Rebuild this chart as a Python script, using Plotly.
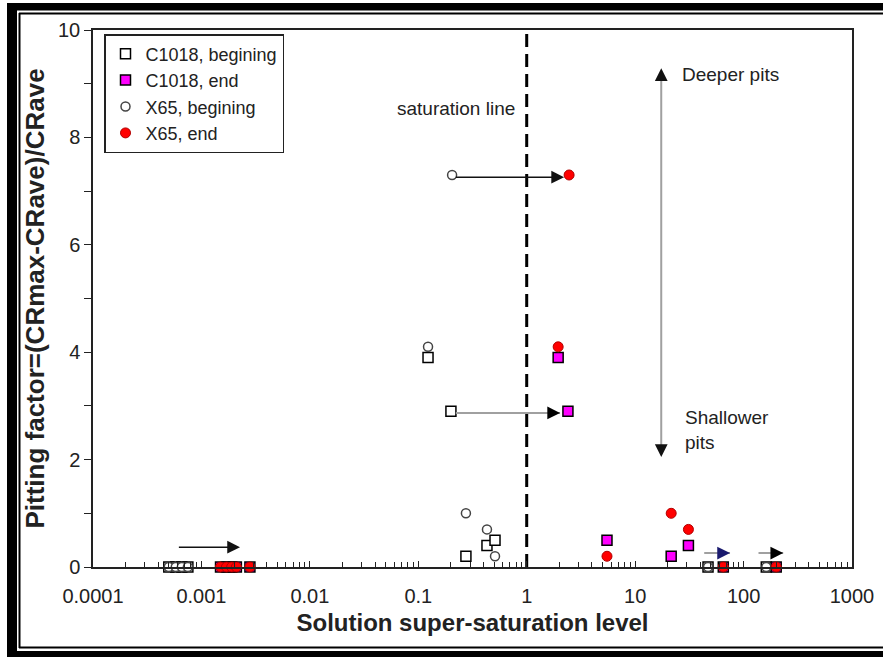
import numpy as np
import plotly.graph_objects as go

# ---------------- data ----------------
c1018_begin_x = [0.0005, 0.00058, 0.00066, 0.00075, 0.123, 0.2, 0.275, 0.43, 0.51, 47, 162]
c1018_begin_y = [0, 0, 0, 0, 3.9, 2.9, 0.2, 0.4, 0.5, 0, 0]

c1018_end_x = [0.0015, 0.0017, 0.0019, 0.0021, 0.0028, 1.95, 2.4, 5.5, 21.5, 31, 65, 200]
c1018_end_y = [0, 0, 0, 0, 0, 3.9, 2.9, 0.5, 0.2, 0.4, 0, 0]

x65_begin_x = [0.0005, 0.00058, 0.00066, 0.00075, 0.205, 0.123, 0.275, 0.43, 0.51, 47, 162]
x65_begin_y = [0, 0, 0, 0, 7.3, 4.1, 1.0, 0.7, 0.2, 0, 0]

x65_end_x = [0.0015, 0.0017, 0.0019, 0.0021, 0.0028, 2.46, 1.95, 5.5, 21.5, 31, 65, 200]
x65_end_y = [0, 0, 0, 0, 0, 7.3, 4.1, 0.2, 1.0, 0.7, 0, 0]

x_tickvals = [0.0001, 0.001, 0.01, 0.1, 1, 10, 100, 1000]
x_ticktext = ["0.0001", "0.001", "0.01", "0.1", "1", "10", "100", "1000"]

saturation_x = [1, 1]
saturation_y = [0, 10]

# arrows: (x_start, x_end, y)
black_arrows = [(0.0006, 0.00227, 0.37), (0.215, 2.21, 7.26)]
gray_arrows = [(0.215, 2.03, 2.87, "black"), (42, 75, 0.26, "#1a1a6e"), (133, 232, 0.26, "black")]
depth_arrow_x = 17.4
depth_arrow_y = [2.05, 9.29]

# ---------------- layout geometry ----------------
W, H = 883, 657
L, R, T, B = 93, 31, 30, 90
PW, PH = W - L - R, H - T - B


def px(v):
    return (v - L) / PW


def py(v):
    return (H - B - v) / PH


FONT = "Liberation Sans, Arial, sans-serif"

fig = go.Figure()

fig.add_trace(go.Scatter(
    x=saturation_x, y=saturation_y, mode="lines", showlegend=False,
    line=dict(color="black", width=3, dash="13px,7px"), hoverinfo="skip"))

fig.add_trace(go.Scatter(
    x=[depth_arrow_x, depth_arrow_x], y=[depth_arrow_y[0] + 0.15, depth_arrow_y[1] - 0.15],
    mode="lines", showlegend=False, line=dict(color="#a0a0a0", width=2), hoverinfo="skip"))

fig.add_trace(go.Scatter(
    x=c1018_begin_x, y=c1018_begin_y, mode="markers", name="C1018, begining",
    cliponaxis=False,
    marker=dict(symbol="square", size=10, color="white", line=dict(color="black", width=1.5))))
fig.add_trace(go.Scatter(
    x=c1018_end_x, y=c1018_end_y, mode="markers", name="C1018, end",
    cliponaxis=False,
    marker=dict(symbol="square", size=10, color="#ff00ff", line=dict(color="black", width=1.5))))
fig.add_trace(go.Scatter(
    x=x65_begin_x, y=x65_begin_y, mode="markers", name="X65, begining",
    cliponaxis=False,
    marker=dict(symbol="circle", size=9, color="white", line=dict(color="#444444", width=1.5))))
fig.add_trace(go.Scatter(
    x=x65_end_x, y=x65_end_y, mode="markers", name="X65, end",
    cliponaxis=False,
    marker=dict(symbol="circle", size=10, color="#ff0000", line=dict(color="#b00000", width=1))))

annotations = []


def arrow(x0, x1, y, color, head=2, width=1.5, size=1.7):
    return dict(x=np.log10(x1), y=y, ax=np.log10(x0), ay=y, xref="x", yref="y",
                axref="x", ayref="y", showarrow=True, arrowhead=head, arrowsize=size,
                arrowwidth=width, arrowcolor=color, text="")


for x0, x1, y in black_arrows:
    annotations.append(arrow(x0, x1, y, "#111111"))

for x0, x1, y, headcol in gray_arrows:
    annotations.append(arrow(x0, x1, y, "#a0a0a0", head=0, width=2))
    # arrowhead in darker colour
    xs = 10 ** (np.log10(x1) - 0.06)
    annotations.append(arrow(xs, x1, y, headcol))

# vertical double arrow heads
for ytip, ytail in [(depth_arrow_y[1], depth_arrow_y[1] - 0.22), (depth_arrow_y[0], depth_arrow_y[0] + 0.22)]:
    annotations.append(dict(x=np.log10(depth_arrow_x), y=ytip, ax=np.log10(depth_arrow_x), ay=ytail,
                            xref="x", yref="y", axref="x", ayref="y", showarrow=True,
                            arrowhead=2, arrowsize=1.7, arrowwidth=1.5, arrowcolor="#111111", text=""))

annotations.append(dict(x=np.log10(0.223), y=8.53, xref="x", yref="y", text="saturation line",
                        showarrow=False, font=dict(family=FONT, size=19, color="#222222")))
annotations.append(dict(x=np.log10(26), y=9.18, xref="x", yref="y", text="Deeper pits",
                        showarrow=False, xanchor="left", font=dict(family=FONT, size=19, color="#222222")))
annotations.append(dict(x=np.log10(27.7), y=2.55, xref="x", yref="y", text="Shallower<br>pits",
                        showarrow=False, xanchor="left", align="left",
                        font=dict(family=FONT, size=19, color="#222222")))

# page frame
shapes = []


def rect(x0, x1, y0, y1):
    shapes.append(dict(type="rect", xref="paper", yref="paper", x0=px(x0), x1=px(x1),
                       y0=py(y0), y1=py(y1), fillcolor="black", line=dict(width=0), layer="above"))


def hline(x0, x1, y, w=2):
    shapes.append(dict(type="line", xref="paper", yref="paper", x0=px(x0), x1=px(x1),
                       y0=py(y), y1=py(y), line=dict(color="black", width=w)))


def vline(x, y0, y1, w=2):
    shapes.append(dict(type="line", xref="paper", yref="paper", x0=px(x), x1=px(x),
                       y0=py(y0), y1=py(y1), line=dict(color="black", width=w)))


rect(7, 884, 3, 10.5)
rect(7, 17, 3, 658)
rect(7, 884, 651, 658)
hline(19, 884, 13.5)
vline(19.5, 13, 648)
hline(19, 884, 647.5)

fig.update_layout(
    width=W, height=H,
    margin=dict(l=L, r=R, t=T, b=B, autoexpand=False),
    paper_bgcolor="white", plot_bgcolor="white",
    font=dict(family=FONT, color="#222222"),
    showlegend=True,
    legend=dict(x=px(104), y=py(34), xanchor="left", yanchor="top",
                bordercolor="#222222", borderwidth=1.5, bgcolor="white",
                font=dict(family=FONT, size=18, color="#222222"),
                itemsizing="trace", tracegroupgap=0),
    annotations=annotations,
    shapes=shapes,
    xaxis=dict(type="log", range=[-4, 3], tickvals=x_tickvals, ticktext=x_ticktext,
               ticks="inside", ticklen=6, tickcolor="#222222", tickwidth=1,
               minor=dict(ticks="inside", ticklen=5, dtick="D1", tickcolor="#222222", showgrid=False),
               showgrid=False, zeroline=False, showline=True, linecolor="#222222", linewidth=1.5,
               mirror=True, tickfont=dict(family=FONT, size=20, color="#222222"),
               ticklabelstandoff=10,
               title=dict(text="<b>Solution super-saturation level</b>", standoff=8,
                          font=dict(family=FONT, size=24, color="#222222"))),
    yaxis=dict(range=[0, 10], dtick=2, ticks="outside", ticklen=7, tickcolor="#222222",
               minor=dict(ticks="outside", ticklen=7, dtick=1, tickcolor="#222222", showgrid=False),
               showgrid=False, zeroline=False, showline=True, linecolor="#222222", linewidth=1.5,
               mirror=True, tickfont=dict(family=FONT, size=20, color="#222222"),
               title=dict(text="<b>Pitting factor=(CRmax-CRave)/CRave</b>", standoff=6,
                          font=dict(family=FONT, size=26, color="#222222"))),
)

fig.write_html("out.html", config={"displayModeBar": False},
               post_script="document.body.style.margin='0px';document.body.style.padding='0px';")
